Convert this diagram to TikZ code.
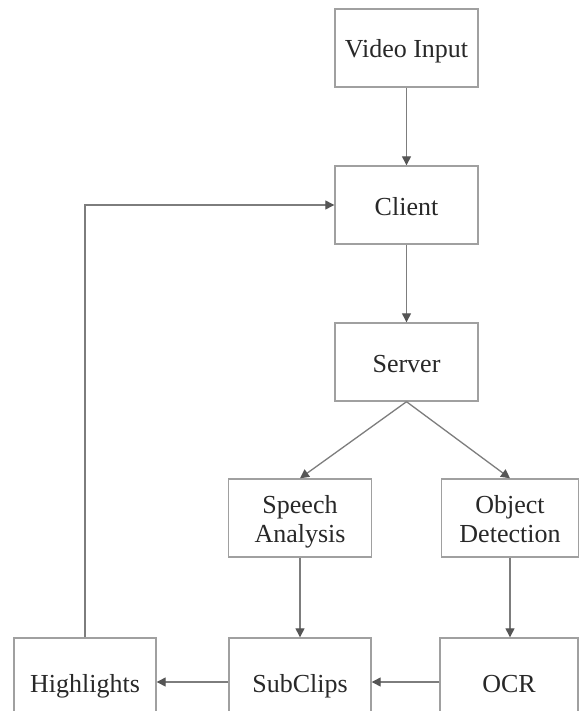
\documentclass[tikz,border=0pt]{standalone}
\usepackage{fontspec}
\setmainfont{Liberation Serif}
\usetikzlibrary{arrows.meta}
\definecolor{boxline}{RGB}{160,160,160}
\definecolor{linkline}{RGB}{125,125,125}
\definecolor{tipfill}{RGB}{85,85,85}
\definecolor{labeltext}{RGB}{40,40,40}
% label font: fixed 29pt line pitch for two-line labels
\newcommand\stagefont{\fontsize{26}{29}\selectfont\setlength\lineskiplimit{-50pt}}
% fixed line height/depth (deeper than any descender) so every label sits at the same level
\newcommand\lineprop{\rule[-7pt]{0pt}{34pt}}
\tikzset{
  stage/.style={draw=boxline, line width=1.4pt, fill=white, minimum width=143pt,
    minimum height=78pt, inner sep=0pt, align=center, text=labeltext,
    font=\stagefont},
  link/.style={draw=linkline, line width=1.3pt,
    -{Triangle[length=9pt,width=9pt,fill=tipfill,color=tipfill]}}
}
\begin{document}
\begin{tikzpicture}[x=1pt,y=-1pt]
  \clip (0,0) rectangle (579,711);
  \fill[white] (0,0) rectangle (579,711);
  % pipeline stages
  \node[stage] (video)  at (406.5,48)  {\lineprop Video Input};
  \node[stage] (client) at (406.5,205) {\lineprop Client};
  \node[stage] (server) at (406.5,362) {\lineprop Server};
  \node[stage] (speech) at (300,518) {\lineprop Speech\\\lineprop Analysis};
  \node[stage, minimum width=137pt] (object) at (510,518) {\lineprop Object\\\lineprop Detection};
  \node[stage, minimum width=142pt, minimum height=88pt] (high) at (85,682) {\lineprop Highlights};
  \node[stage, minimum width=142pt, minimum height=88pt] (sub)  at (300,682) {\lineprop SubClips};
  \node[stage, minimum width=138pt, minimum height=88pt] (ocr)  at (509,682) {\lineprop OCR};
  % data flow
  \draw[link] (video) -- (client);
  \draw[link] (client) -- (server);
  \draw[link] (server.south) -- (speech.north);
  \draw[link] (server.south) -- (object.north);
  \draw[link] (speech.south) -- (sub.north);
  \draw[link] (object.south) -- (object.south |- ocr.north);
  \draw[link] (ocr.west) -- (sub.east);
  \draw[link] (sub.west) -- (high.east);
  \draw[link] (high.north) |- (client.west);
\end{tikzpicture}
\end{document}
